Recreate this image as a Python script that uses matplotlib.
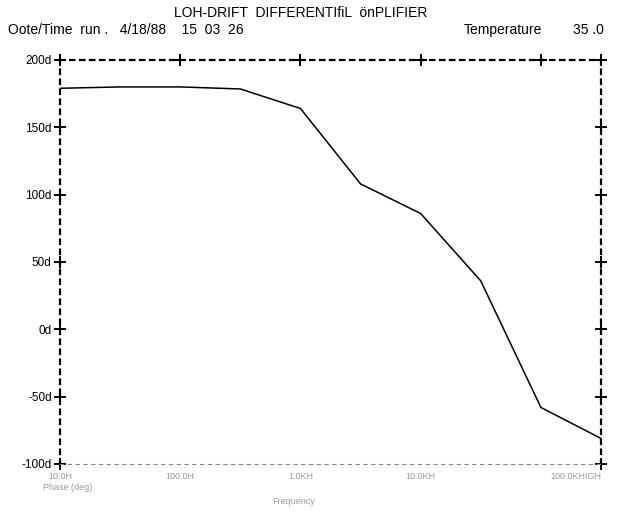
import matplotlib.pyplot as plt
import matplotlib.ticker as mticker

plt.rcParams['font.family'] = ['Liberation Sans', 'DejaVu Sans']

# datos (fase vs frecuencia)
freq = [10, 31.6, 100, 316, 1000, 3160, 10000, 31600, 100000, 316000]
phase = [179, 180, 180, 178.5, 164, 108, 86, 36, -58, -81]

y_ticks = [200, 150, 100, 50, 0, -50, -100]
y_labels = ['200d', '150d', '100d', '50d', '0d', '-50d', '-100d']
x_ticks = [10, 100, 1000, 10000, 100000, 316228]
x_labels = ['10.0H', '100.0H', '1.0KH', '10.0KH', '', '100.0KHIGH']

fig = plt.figure(figsize=(6.19, 5.12), dpi=100)
ax = fig.add_axes([60/619, 1 - 464/512, 541/619, 404/512])

ax.plot(freq, phase, color='black', lw=1.1)

ax.set_xscale('log')
ax.set_xlim(10, 316228)
ax.set_ylim(-100, 200)

# marco punteado
for s in ['left', 'right', 'top']:
    ax.spines[s].set_linestyle((0, (2, 2.5)))
    ax.spines[s].set_linewidth(1.6)
ax.spines['bottom'].set_linestyle((0, (3, 4)))
ax.spines['bottom'].set_linewidth(0.8)
ax.spines['bottom'].set_color('#888888')

ax.set_yticks(y_ticks)
ax.set_yticklabels(y_labels, fontsize=8.5)
ax.set_xticks(x_ticks)
ax.set_xticklabels(x_labels, fontsize=6.5, color='#999999')
ax.get_xticklabels()[-1].set_ha('right')
ax.xaxis.set_minor_locator(mticker.NullLocator())
ax.tick_params(axis='both', length=0, pad=6)

# cruces en las marcas
ax.plot([10] * len(y_ticks), y_ticks, '+', color='black', ms=8, mew=1.4, clip_on=False)
ax.plot([316228] * len(y_ticks), y_ticks, '+', color='black', ms=8, mew=1.4, clip_on=False)
ax.plot(x_ticks, [200] * len(x_ticks), '+', color='black', ms=8, mew=1.4, clip_on=False)

fig.text(0.485, 0.975, 'LOH-DRIFT  DIFFERENTIfiL  önPLIFIER', ha='center', va='center', fontsize=10)
fig.text(0.013, 0.942, 'Oote/Time  run .   4/18/88    15  03  26', ha='left', va='center', fontsize=10)
fig.text(0.75, 0.942, 'Temperature', ha='left', va='center', fontsize=10)
fig.text(0.975, 0.942, '35 .0', ha='right', va='center', fontsize=10)
fig.text(0.11, 0.047, 'Phase (deg)', ha='center', va='center', fontsize=6.5, color='#999999')
fig.text(0.475, 0.02, 'Frequency', ha='center', va='center', fontsize=6.5, color='#999999')

fig.savefig('out.png', dpi=100)
